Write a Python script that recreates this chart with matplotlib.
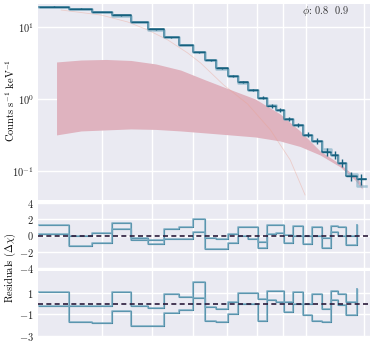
import numpy as np
import matplotlib
matplotlib.use("Agg")
import matplotlib.pyplot as plt

# ---------------- data ----------------
edges = [3.02, 3.45, 3.83, 4.18, 4.55, 4.91, 5.28, 5.64, 6.00, 6.34, 6.68, 7.02, 7.37,
         7.71, 8.06, 8.39, 8.74, 9.05, 9.43, 9.86, 10.26, 10.73, 11.17, 11.52, 11.94,
         12.54, 13.06]
counts_a = [18.9, 17.7, 16.0, 14.4, 11.6, 9.2, 7.13, 5.58, 4.43, 3.43, 2.66, 2.08, 1.70,
            1.33, 1.04, 0.80, 0.705, 0.53, 0.44, 0.32, 0.262, 0.185, 0.168, 0.130, 0.086, 0.078]
counts_b = [18.9, 17.5, 16.0, 14.2, 11.6, 9.0, 7.13, 5.58, 4.43, 3.43, 2.62, 2.08, 1.68,
            1.33, 1.04, 0.82, 0.70, 0.53, 0.44, 0.32, 0.262, 0.200, 0.168, 0.130, 0.092, 0.062]
rel_err = [0.01, 0.01, 0.01, 0.01, 0.01, 0.01, 0.01, 0.01, 0.01, 0.02, 0.02, 0.02, 0.03,
           0.03, 0.04, 0.05, 0.05, 0.06, 0.07, 0.08, 0.09, 0.12, 0.12, 0.13, 0.15, 0.16]

band_e = [3.26, 3.64, 4.07, 4.55, 5.09, 5.69, 6.36, 7.11, 7.95, 8.89, 9.72, 10.63, 11.63, 12.43, 12.83]
band_hi = [3.25, 3.46, 3.52, 3.41, 3.05, 2.51, 1.83, 1.35, 1.00, 0.62, 0.361, 0.191, 0.126, 0.086, 0.0667]
band_lo = [0.318, 0.361, 0.373, 0.385, 0.379, 0.361, 0.339, 0.318, 0.298, 0.262, 0.220, 0.168, 0.115, 0.0758, 0.0569]

line_e = [3.33, 3.98, 4.49, 4.91, 5.37, 5.87, 6.22, 6.90, 7.68, 8.51, 9.30, 9.94]
line_c = [17.0, 14.5, 11.6, 9.0, 6.55, 4.33, 3.15, 1.56, 0.853, 0.373, 0.143, 0.047]

# residual bands (upper / lower), one value per bin start;
# the last value only draws the closing vertical
mid_hi = [1.3, 0.0, 0.3, 1.6, -0.3, -0.6, 0.8, 1.0, 2.0, -0.3, -0.45, 0.2, 1.05,
          1.0, -0.75, 1.3, 1.3, 0.1, 1.2, 0.0, 1.0, -0.3, 1.2, 1.0, 0.0, 1.3]
mid_lo = [0.15, -1.3, -0.9, 0.8, -0.5, -1.0, -0.4, -0.45, 0.45, -1.7, -1.7, -0.9, 0.0,
          -0.45, -1.55, 0.15, 0.35, -0.9, 0.0, -1.1, 0.0, -1.5, 0.4, 0.0, -1.2, 1.3]
bot_hi = [1.1, -0.2, -0.2, 1.1, -0.2, -0.4, 0.85, 0.6, 1.95, -0.3, -0.5, 0.1, 0.95,
          0.95, 0.45, 1.2, 1.2, 0.1, 1.05, 0.0, 0.9, -0.5, 1.15, 0.85, 0.1, 1.3]
bot_lo = [-0.2, -1.7, -1.8, -0.7, -2.1, -2.1, -0.85, -0.6, 0.5, -1.6, -1.7, -1.0, 0.0,
          0.0, -1.6, 0.35, 0.1, -0.8, 0.0, -1.1, -1.6, -1.7, 0.3, -0.15, -1.1, 1.3]

xgrid = [4, 5, 6, 7, 8, 9, 10, 12.95]

# ---------------- style ----------------
plt.rcParams.update({
    "font.family": "serif",
    "font.serif": ["cmr10", "DejaVu Serif"],
    "mathtext.fontset": "cm",
    "axes.formatter.use_mathtext": True,
    "axes.unicode_minus": False,
    "font.size": 7.5,
})
BG = "#EAEAF2"
DARK = "#16607e"
LIGHT = "#78abc2"

fig = plt.figure(figsize=(3.74, 3.45), dpi=100)
W, H = 374.0, 345.0

def add(l, r, t, b):
    return fig.add_axes([l / W, 1 - b / H, (r - l) / W, (b - t) / H])

ax0 = add(38, 370, 4, 200)
ax1 = add(38, 370, 203, 268)
ax2 = add(38, 370, 271, 336)

for ax in (ax0, ax1, ax2):
    ax.set_facecolor(BG)
    for s in ax.spines.values():
        s.set_visible(False)
    ax.set_xscale("log")
    ax.set_xlim(3.0, 13.3)
    ax.set_xticks(xgrid)
    ax.set_xticks([], minor=True)
    ax.set_xticklabels([])
    ax.tick_params(length=0, labelsize=7.5, pad=3, labelcolor="#222222")
    ax.grid(True, color="white", lw=1.0)
    ax.set_axisbelow(True)

e = np.array(edges)
# top panel
ax0.set_yscale("log")
ax0.set_ylim(0.040, 20.6)
ax0.set_yticks([0.1, 1, 10])
ax0.set_yticks([], minor=True)
ax0.fill_between(band_e, band_lo, band_hi, color="#dfb3bf", lw=0, zorder=1)
ax0.plot(line_e, line_c, color="#eba08f", lw=0.6, alpha=0.4, zorder=2)
ya = np.append(counts_a, counts_a[-1])
yb = np.append(counts_b, counts_b[-1])
ax0.step(e, ya, where="post", color=DARK, lw=1.1, zorder=3)
ax0.step(e, yb, where="post", color=LIGHT, lw=1.8, alpha=0.6, zorder=4)
cen = np.sqrt(e[:-1] * e[1:])
ca = np.array(counts_a)
ax0.errorbar(cen, ca, yerr=ca * np.array(rel_err), xerr=[cen - e[:-1], e[1:] - cen],
             fmt="none", ecolor=DARK, elinewidth=1.0, zorder=5)
ax0.text(0.795, 0.965, r"$\phi$: 0.8  0.9", transform=ax0.transAxes,
         ha="left", va="center", fontsize=7.5, color="#333333")

# residual panels
for ax, hi, lo, yl, yt in ((ax1, mid_hi, mid_lo, (-4, 4), [-4, -2, 0, 2, 4]),
                           (ax2, bot_hi, bot_lo, (-3, 3), [-3, -1, 1])):
    ax.set_ylim(*yl)
    ax.set_yticks(yt)
    for r in (hi, lo):
        ax.step(e[:-1], r, where="post", color=DARK, lw=0.8, zorder=3)
        ax.step(e[:-1], r, where="post", color=LIGHT, lw=1.2, alpha=0.85, zorder=4)
    ax.axhline(0, color="#2b1b3b", lw=1.2, ls=(0, (3, 2)), zorder=5)

fig.text(10 / W, 1 - 100 / H, r"Counts s$^{-1}$ keV$^{-1}$", rotation=90,
         ha="center", va="center", fontsize=7.5)
fig.text(10 / W, 1 - 268 / H, r"Residuals ($\Delta\chi$)", rotation=90,
         ha="center", va="center", fontsize=7.5)

fig.savefig("out.png", dpi=100, facecolor="white")
